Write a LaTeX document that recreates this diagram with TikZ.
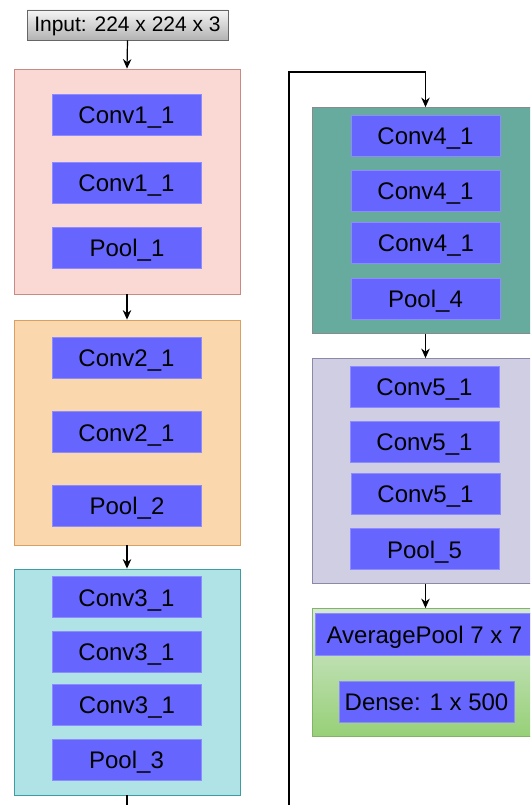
\documentclass[tikz,border=0pt]{standalone}
\usepackage{fontspec}
\setmainfont{Liberation Sans}
\usetikzlibrary{arrows.meta}
\definecolor{layerfill}{HTML}{6666FF}
\definecolor{layeredge}{HTML}{8C8CFF}
\definecolor{pinkfill}{HTML}{FAD9D5}
\definecolor{pinkedge}{HTML}{C98A84}
\definecolor{orangefill}{HTML}{FAD7AC}
\definecolor{orangeedge}{HTML}{D9A062}
\definecolor{cyanfill}{HTML}{B0E3E6}
\definecolor{cyanedge}{HTML}{3E9CA3}
\definecolor{tealfill}{HTML}{67AB9F}
\definecolor{tealedge}{HTML}{8A8A8A}
\definecolor{lilacfill}{HTML}{D0CEE2}
\definecolor{lilacedge}{HTML}{8C88A8}
\definecolor{greentop}{HTML}{D5E8D4}
\definecolor{greenbottom}{HTML}{97D077}
\definecolor{greenedge}{HTML}{82B366}
\begin{document}
\begin{tikzpicture}[x=1pt,y=-1pt,
    block/.style={draw, line width=0.8pt, minimum width=226pt, minimum height=225pt, inner sep=0pt},
    layer/.style={draw=layeredge, fill=layerfill, line width=0.6pt, minimum width=149pt, minimum height=41pt,
      inner sep=0pt, text height=18.5pt, text depth=0pt, font=\fontsize{24}{28}\selectfont},
    link/.style={-{Stealth[length=9.5pt,width=8.5pt]}, line width=1.2pt}]
  \useasboundingbox (0,0) rectangle (530,805);
  \clip (0,0) rectangle (530,805);
  \node[draw=black!60, line width=0.8pt, top color=black!4, bottom color=black!30, minimum width=201pt,
    minimum height=30pt, inner sep=0pt, text height=15pt, text depth=1.5pt,
    font=\fontsize{21}{25}\selectfont] (in) at (127.5,25) {Input: 224 x 224 x 3};
  \node[block, fill=pinkfill, draw=pinkedge] (b1) at (127,181.5) {};
  \node[block, fill=orangefill, draw=orangeedge] (b2) at (127,432.5) {};
  \node[block, fill=cyanfill, draw=cyanedge, minimum height=226pt] (b3) at (127,682) {};
  \node[block, fill=tealfill, draw=tealedge, minimum height=226pt] (b4) at (425.5,220.5) {};
  \node[block, fill=lilacfill, draw=lilacedge] (b5) at (425.5,471) {};
  \node[block, top color=greentop, bottom color=greenbottom, draw=greenedge, minimum height=128pt] (b6) at (425.5,672.5) {};
  \node[layer] (c11) at (126.5,114.5) {Conv1\_1};
  \node[layer] (c12) at (126.5,182.5) {Conv1\_1};
  \node[layer] (p1) at (127,247.5) {Pool\_1};
  \node[layer] (c21) at (126.5,357.5) {Conv2\_1};
  \node[layer] (c22) at (126.5,432) {Conv2\_1};
  \node[layer] (p2) at (127,505.5) {Pool\_2};
  \node[layer] (c31) at (126.5,597) {Conv3\_1};
  \node[layer] (c32) at (126.5,651.5) {Conv3\_1};
  \node[layer] (c33) at (127,704.5) {Conv3\_1};
  \node[layer] (p3) at (126.5,759.5) {Pool\_3};
  \node[layer] (c41) at (425.5,135.5) {Conv4\_1};
  \node[layer] (c42) at (425.5,190.5) {Conv4\_1};
  \node[layer] (c43) at (426,242.5) {Conv4\_1};
  \node[layer] (p4) at (425.5,298.5) {Pool\_4};
  \node[layer] (c51) at (424.5,386.5) {Conv5\_1};
  \node[layer] (c52) at (424.5,441.5) {Conv5\_1};
  \node[layer] (c53) at (425.5,493.5) {Conv5\_1};
  \node[layer] (p5) at (424.5,549) {Pool\_5};
  \node[layer, minimum width=219pt, minimum height=42pt] (avg) at (424.5,634) {AveragePool 7 x 7};
  \node[layer, minimum width=175pt] (dense) at (426.5,701.5) {Dense: 1 x 500};
  \coordinate (low) at (289,830);
  \coordinate (high) at (289,72);
  \draw[link] (in.south) -- (b1.north);
  \draw[link] (b1.south) -- (b2.north);
  \draw[link] (b2.south) -- (b3.north);
  \draw[link] (b3.south) |- (low) -- (high) -| (b4.north);
  \draw[link] (b4.south) -- (b5.north);
  \draw[link] (b5.south) -- (b6.north);
\end{tikzpicture}
\end{document}
